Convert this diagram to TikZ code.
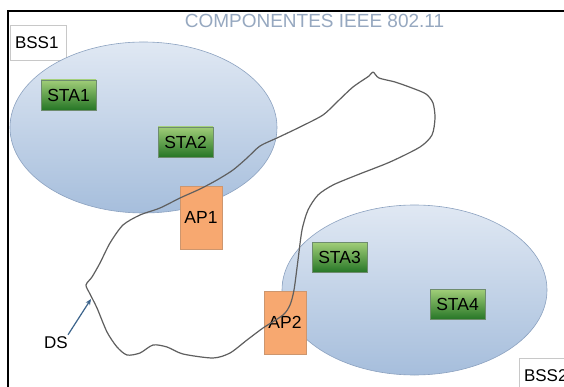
\documentclass[tikz,border=0pt]{standalone}
\usepackage{fontspec}
\setmainfont{Liberation Sans}
\usetikzlibrary{shapes.geometric,arrows.meta}
\definecolor{ellTop}{RGB}{224,232,243}
\definecolor{ellBot}{RGB}{166,190,220}
\definecolor{ellLine}{RGB}{140,162,192}
\definecolor{staTop}{RGB}{160,205,120}
\definecolor{staBot}{RGB}{38,118,38}
\definecolor{staLine}{RGB}{110,140,110}
\definecolor{apFill}{RGB}{247,168,112}
\definecolor{apLine}{RGB}{205,150,110}
\definecolor{titleCol}{RGB}{150,168,192}
\definecolor{dsLine}{RGB}{95,95,95}
\definecolor{arrowCol}{RGB}{60,100,140}
\definecolor{bssLine}{RGB}{200,200,200}
\tikzset{
  cell/.style={ellipse, inner sep=0pt, top color=ellTop, bottom color=ellBot, draw=ellLine, line width=0.6pt},
  sta/.style={rectangle, inner sep=0pt, minimum width=55pt, minimum height=30pt, top color=staTop, bottom color=staBot, draw=staLine, line width=0.6pt, font=\fontsize{17.5}{20}\selectfont},
  ap/.style={rectangle, inner sep=0pt, minimum width=42pt, minimum height=63pt, fill=apFill, draw=apLine, line width=0.6pt, font=\fontsize{17.5}{20}\selectfont},
  bss/.style={rectangle, inner sep=0pt, minimum width=56pt, minimum height=35pt, fill=white, draw=bssLine, line width=0.6pt, font=\fontsize{17}{20}\selectfont, text width=46pt, align=left},
  lbl/.style={inner sep=0pt, font=\fontsize{17}{20}\selectfont},
}
\begin{document}
\begin{tikzpicture}[x=1pt,y=-1pt]
\useasboundingbox (0,0) rectangle (564,387);
\clip (0,0) rectangle (564,387);
\fill[white] (0,0) rectangle (564,387);
% frame
\draw[line width=2pt, line cap=rect] (8,390) -- (8,11) -- (566,11);
% title
\node[inner sep=0pt, text=titleCol, font=\fontsize{19}{22}\selectfont] (title) at (314.5,21) {COMPONENTES IEEE 802.11};
% BSS boxes
\node[bss] (bss1) at (38,42.5) {BSS1};
% cells
\node[cell, minimum width=267pt, minimum height=171pt] (cell1) at (143.5,127.5) {};
\node[cell, minimum width=265pt, minimum height=170pt] (cell2) at (414.5,290) {};
\node[bss] (bss2) at (547,375.5) {BSS2};
% stations
\node[sta] (sta1) at (68.5,95) {STA1};
\node[sta] (sta2) at (185.5,142) {STA2};
\node[sta] (sta3) at (339.5,257.5) {STA3};
\node[sta] (sta4) at (457.5,304.5) {STA4};
% access points
\node[ap] (ap1) at (201,217.5) {AP1};
\node[ap] (ap2) at (285,322.5) {AP2};
% distribution system loop
\draw[dsLine, line width=1.2pt, line join=round] plot[smooth cycle, tension=0.45] coordinates {
 (373,72) (379,78) (395,82) (412,88) (426,94) (433,103) (435,118) (432,135) (420,147)
 (390,162) (357,175) (333,185) (318,195) (308,210) (302,230) (298,260) (294,290)
 (290,305) (283,315) (263,328) (247,340) (230,353) (213,358) (183,354) (167,347)
 (153,345) (140,353) (127,355) (117,347) (107,332) (97,308) (90,294) (86,285)
 (92,277) (100,263) (110,243) (123,225) (140,215) (160,208) (180,198) (200,189)
 (217,180) (233,170) (247,158) (260,146) (277,138) (300,127) (323,115) (337,102)
 (353,87) (369,76)};
% DS label
\node[lbl] (ds) at (56,343) {DS};
\coordinate (dstip) at (91,299);
\draw[arrowCol, line width=1.2pt, -{Stealth[length=6pt,width=5pt]}] (ds.north east) ++(0,-2) -- (dstip);
\end{tikzpicture}
\end{document}
